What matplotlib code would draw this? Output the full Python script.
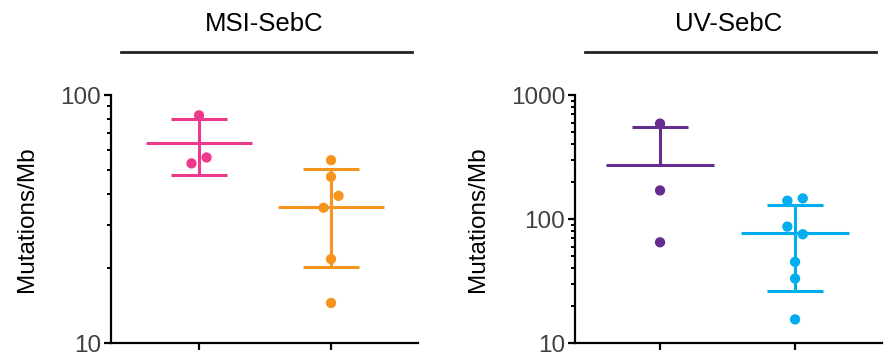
import numpy as np
import matplotlib
matplotlib.use("Agg")
import matplotlib.pyplot as plt

plt.rcParams['font.family'] = ['Liberation Sans', 'DejaVu Sans']

# values (mutations / Mb)
msi_a = [82.8, 53.0, 56.0]
msi_b = [54.6, 46.8, 35.1, 39.2, 21.8, 14.5]
uv_a = [588.0, 170.0, 64.9]
uv_b = [140.4, 146.6, 86.8, 75.3, 45.1, 33.1, 15.5]

panel_titles = ["MSI-SebC", "UV-SebC"]
ylims = [(10, 100), (10, 1000)]
colors_msi = ["#EE3A8C", "#F7941D"]
colors_uv = ["#662D91", "#00AEEF"]


def swarm_offsets(vals, px_per_decade, thresh=14, step=0.057):
    # split points that sit too close on the log axis, first in data order goes left
    y = np.log10(vals) * px_per_decade
    order = np.argsort(y)
    clusters = [[order[0]]]
    for i in order[1:]:
        if y[i] - y[clusters[-1][-1]] < thresh:
            clusters[-1].append(i)
        else:
            clusters.append([i])
    off = np.zeros(len(vals))
    for c in clusters:
        if len(c) > 1:
            c = sorted(c)
            pos = np.linspace(-1, 1, len(c)) * step * (len(c) - 1) / 1.0
            for k, idx in enumerate(c):
                off[idx] = pos[k] if len(c) > 2 else (-step if k == 0 else step)
    return off


def draw_group(ax, x, vals, color, px_per_decade):
    vals = np.array(vals)
    m = vals.mean()
    sd = vals.std(ddof=1)
    lw = 2.2
    ax.hlines(m, x - 0.40, x + 0.40, color=color, lw=lw, zorder=2)
    hi = m + sd
    lo = m - sd
    ax.vlines(x, lo if lo > 0 else m, hi, color=color, lw=lw, zorder=2)
    ax.hlines(hi, x - 0.21, x + 0.21, color=color, lw=lw, zorder=2)
    if lo > 0:
        ax.hlines(lo, x - 0.21, x + 0.21, color=color, lw=lw, zorder=2)
    off = swarm_offsets(vals, px_per_decade)
    ax.scatter(x + off, vals, s=55, color=color, edgecolors='none', zorder=3)


fig = plt.figure(figsize=(8.94, 3.6), dpi=100)
ax1 = fig.add_axes([111 / 894, 17 / 360, 307 / 894, 248 / 360])
ax2 = fig.add_axes([575 / 894, 17 / 360, 307 / 894, 248 / 360])

draw_group(ax1, 0, msi_a, colors_msi[0], 248)
draw_group(ax1, 1, msi_b, colors_msi[1], 248)
draw_group(ax2, 0, uv_a, colors_uv[0], 124)
draw_group(ax2, 1, uv_b, colors_uv[1], 124)

ax1.set_xlim(-0.667, 1.659)
ax2.set_xlim(-0.63, 1.644)

for ax, title, yl in zip([ax1, ax2], panel_titles, ylims):
    ax.set_yscale('log')
    ax.set_ylim(*yl)
    ax.set_xticks([0, 1])
    ax.set_xticklabels([])
    ax.yaxis.set_major_formatter(matplotlib.ticker.FuncFormatter(lambda v, p: f"{v:g}"))
    ax.yaxis.set_minor_formatter(matplotlib.ticker.NullFormatter())
    for s in ['top', 'right']:
        ax.spines[s].set_visible(False)
    for s in ['left', 'bottom']:
        ax.spines[s].set_linewidth(1.6)
    ax.tick_params(which='major', length=5, width=1.6, labelsize=17.5,
                   labelcolor='#404040', pad=2)
    ax.tick_params(which='minor', length=3, width=1.4)
    ax.set_ylabel("Mutations/Mb", fontsize=17.5, labelpad=16)
    ax.plot([0.033, 0.98], [1.173, 1.173], transform=ax.transAxes,
            color='#222222', lw=2, clip_on=False)
    ax.text(0.5, 1.286, title, transform=ax.transAxes, ha='center',
            va='center', fontsize=18.5)

fig.savefig("out.png", dpi=100)
